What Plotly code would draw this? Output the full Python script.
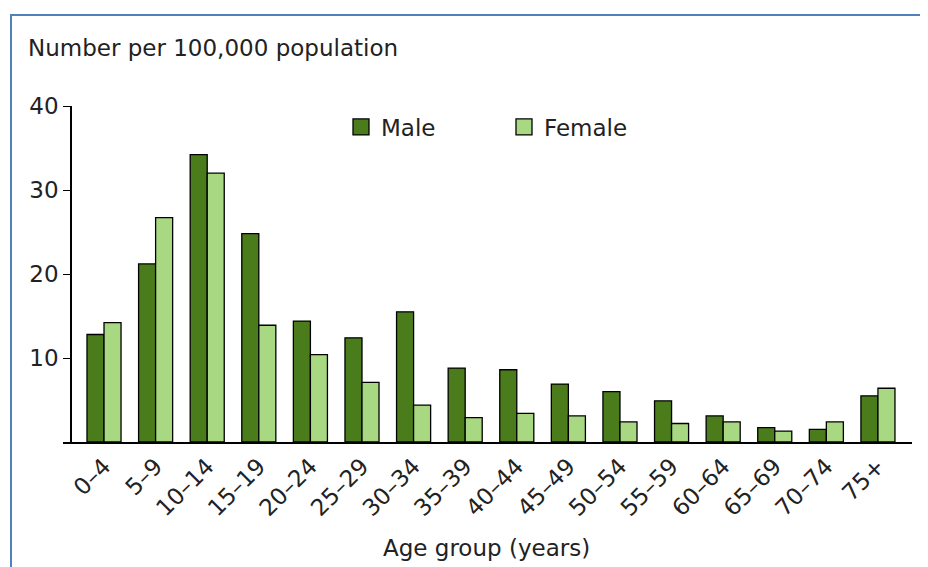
"""Taxa por 100.000 habitantes por faixa etaria e sexo (barras agrupadas)."""

import plotly.graph_objects as go

LARGURA = 928
ALTURA = 567
DESLOCAMENTO = 8  # margem padrao do <body> na pagina gerada

FAIXAS = [
    "0–4", "5–9", "10–14", "15–19", "20–24", "25–29", "30–34", "35–39",
    "40–44", "45–49", "50–54", "55–59", "60–64", "65–69", "70–74", "75+",
]
MASCULINO = [12.8, 21.2, 34.2, 24.8, 14.4, 12.4, 15.5, 8.8,
             8.6, 6.9, 6.0, 4.9, 3.1, 1.7, 1.5, 5.5]
FEMININO = [14.2, 26.7, 32.0, 13.9, 10.4, 7.1, 4.4, 2.9,
            3.4, 3.1, 2.4, 2.2, 2.4, 1.3, 2.4, 6.4]
TICKS_Y = [10, 20, 30, 40]

COR_MASC = "#4a7c1b"
COR_FEM = "#a9d883"
COR_TEXTO = "#222222"
COR_BORDA = "#4f81bd"
FONTE = "DejaVu Sans"
TAM_FONTE = 23


def px_x(px: float) -> float:
    """Pixel da pagina (eixo x) -> coordenada paper."""
    return (px - DESLOCAMENTO) / LARGURA


def px_y(px: float) -> float:
    """Pixel da pagina (eixo y, de cima) -> coordenada paper."""
    return 1 - (px - DESLOCAMENTO) / ALTURA


fig = go.Figure()

for nome, valores, cor in (("Male", MASCULINO, COR_MASC), ("Female", FEMININO, COR_FEM)):
    fig.add_trace(
        go.Bar(
            x=FAIXAS,
            y=valores,
            name=nome,
            showlegend=False,
            marker={"color": cor, "line": {"color": "black", "width": 1.3}},
        )
    )
    # entrada de legenda com quadrado maior que o simbolo padrao de barra
    fig.add_trace(
        go.Scatter(
            x=[None],
            y=[None],
            mode="markers",
            name=nome,
            marker={
                "symbol": "square",
                "size": 20,
                "color": cor,
                "line": {"color": "black", "width": 1.3},
            },
        )
    )

fig.add_annotation(
    text="Number per 100,000 population",
    xref="paper",
    yref="paper",
    x=px_x(26),
    y=px_y(48),
    xanchor="left",
    yanchor="middle",
    showarrow=False,
    font={"family": FONTE, "size": TAM_FONTE, "color": COR_TEXTO},
)
fig.add_annotation(
    text="Age group (years)",
    xref="paper",
    yref="paper",
    x=px_x(486),
    y=px_y(548),
    xanchor="center",
    yanchor="middle",
    showarrow=False,
    font={"family": FONTE, "size": TAM_FONTE, "color": COR_TEXTO},
)

# moldura azul cortada a direita e embaixo
fig.add_shape(
    type="rect",
    xref="paper",
    yref="paper",
    x0=px_x(11),
    y0=px_y(ALTURA + 30),
    x1=px_x(LARGURA + 30),
    y1=px_y(15),
    line={"color": COR_BORDA, "width": 2},
)

fig.update_layout(
    width=LARGURA,
    height=ALTURA,
    margin={"l": 0, "r": 0, "t": 0, "b": 0, "autoexpand": False},
    paper_bgcolor="white",
    plot_bgcolor="white",
    barmode="group",
    bargap=0.34,
    bargroupgap=0,
    font={"family": FONTE, "size": TAM_FONTE, "color": COR_TEXTO},
    legend={
        "orientation": "h",
        "x": px_x(341),
        "y": px_y(127),
        "xanchor": "left",
        "yanchor": "middle",
        "font": {"family": FONTE, "size": TAM_FONTE, "color": COR_TEXTO},
        "entrywidth": 118,
        "bgcolor": "rgba(0,0,0,0)",
    },
    xaxis={
        "domain": [px_x(63), px_x(912)],
        "range": [-0.795, 15.66],
        "automargin": False,
        "showline": True,
        "linecolor": "black",
        "linewidth": 1.5,
        "ticks": "",
        "tickangle": -45,
        "showgrid": False,
        "zeroline": False,
    },
    yaxis={
        "domain": [px_y(442), px_y(106)],
        "range": [0, 40],
        "automargin": False,
        "anchor": "free",
        "position": px_x(71),
        "showline": True,
        "linecolor": "black",
        "linewidth": 1.5,
        "ticks": "outside",
        "ticklen": 7,
        "tickcolor": "black",
        "tickvals": TICKS_Y,
        "showgrid": False,
        "zeroline": False,
    },
)

fig.write_html("out.html")
